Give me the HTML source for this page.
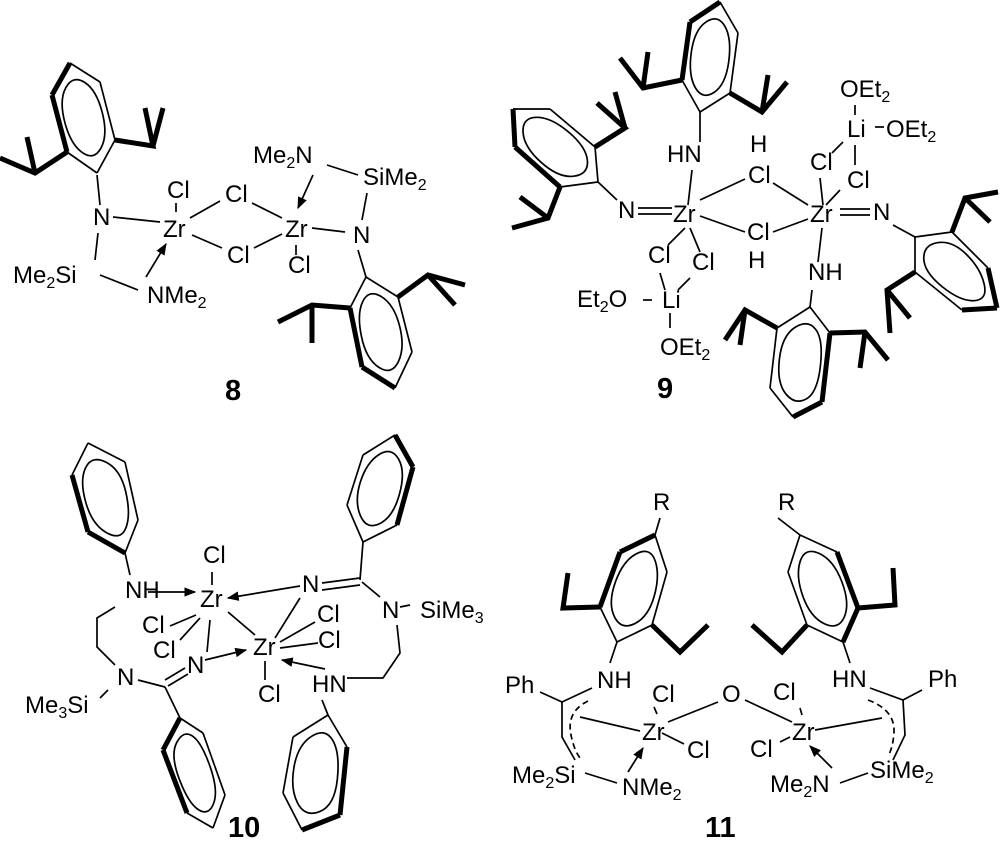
<!DOCTYPE html>
<html><head><meta charset="utf-8"><style>
html,body{margin:0;padding:0;background:#fff;}
svg{display:block;}
text{font-family:"Liberation Sans",Arial,sans-serif;font-size:24px;fill:#000;}
.s{font-size:16px;}
.b{font-weight:bold;font-size:29px;}
line,polyline,path{stroke:#000;fill:none;stroke-width:1.7;}
.t{stroke-width:5;}
.d{stroke-dasharray:6,4;}
</style></head><body>
<svg id="svg" width="1000" height="851" viewBox="0 0 1000 851" xmlns="http://www.w3.org/2000/svg">
<defs><marker id="ar" viewBox="0 0 10 10" refX="9" refY="5" markerWidth="7" markerHeight="7" orient="auto"><path d="M0,1 L10,5 L0,9 z" style="fill:#000;stroke:none"/></marker></defs>
<g id="rings"></g>
<g id="bonds">
<!-- 8 -->
<polyline class="t" points="67,152 35,173 0,158"/><line class="t" x1="35" y1="173" x2="27" y2="137"/>
<polyline class="t" points="115,140 153,146 145,108"/><line class="t" x1="153" y1="146" x2="163" y2="108"/>
<line x1="97" y1="175" x2="100" y2="205"/>
<line x1="113" y1="217" x2="160" y2="222"/><line x1="98" y1="233" x2="95" y2="260"/>
<line x1="100" y1="275" x2="138" y2="290"/><line x1="146" y1="277" x2="166" y2="244" marker-end="url(#ar)"/>
<line x1="176" y1="203" x2="176" y2="212"/>
<line x1="190" y1="218" x2="220" y2="201"/><line x1="252" y1="203" x2="282" y2="218"/>
<line x1="192" y1="235" x2="222" y2="248"/><line x1="254" y1="248" x2="282" y2="234"/>
<line x1="296" y1="245" x2="296" y2="255"/>
<line x1="312" y1="228" x2="345" y2="232"/><line x1="362" y1="220" x2="367" y2="193"/>
<line x1="327" y1="165" x2="358" y2="175"/><line x1="313" y1="175" x2="298" y2="208" marker-end="url(#ar)"/>
<line x1="358" y1="250" x2="366" y2="277"/>
<polyline class="t" points="350,308 312,305 278,322"/><line class="t" x1="312" y1="305" x2="312" y2="343"/>
<polyline class="t" points="398,297 428,275 465,285"/><line class="t" x1="428" y1="275" x2="455" y2="305"/>
<!-- 9 -->
<line x1="638" y1="208" x2="672" y2="208"/><line x1="638" y1="214" x2="672" y2="214"/>
<line x1="692" y1="170" x2="688" y2="205"/>
<line x1="700" y1="200" x2="745" y2="179"/><line x1="773" y1="183" x2="808" y2="205"/>
<line x1="700" y1="216" x2="745" y2="232"/><line x1="773" y1="232" x2="808" y2="219"/>
<line x1="685" y1="228" x2="668" y2="245"/><line x1="690" y1="228" x2="700" y2="252"/>
<line x1="660" y1="273" x2="665" y2="290"/><line x1="690" y1="278" x2="678" y2="290"/>
<line x1="643" y1="300" x2="652" y2="300"/><line x1="670" y1="313" x2="670" y2="328"/>
<line x1="855" y1="105" x2="855" y2="115"/><line x1="843" y1="142" x2="832" y2="153"/>
<line x1="855" y1="145" x2="855" y2="165"/><line x1="875" y1="127" x2="884" y2="127"/>
<line x1="820" y1="178" x2="823" y2="205"/><line x1="840" y1="190" x2="826" y2="205"/>
<line x1="840" y1="209" x2="870" y2="209"/><line x1="840" y1="215" x2="870" y2="215"/>
<line x1="822" y1="228" x2="818" y2="262"/>
<line x1="700" y1="142" x2="700" y2="112"/>
<polyline class="t" points="682,80 643,88 620,58"/><line class="t" x1="643" y1="88" x2="648" y2="52"/>
<polyline class="t" points="730,93 762,112 787,82"/><line class="t" x1="762" y1="112" x2="768" y2="75"/>
<line x1="617" y1="200" x2="598" y2="182"/>
<polyline class="t" points="595,147 625,128 597,103"/><line class="t" x1="625" y1="128" x2="615" y2="92"/>
<polyline class="t" points="560,187 548,218 512,228"/><line class="t" x1="548" y1="218" x2="520" y2="197"/>
<line x1="893" y1="225" x2="915" y2="237"/>
<polyline class="t" points="952,232 965,198 998,192"/><line class="t" x1="965" y1="198" x2="990" y2="222"/>
<polyline class="t" points="915,272 887,290 890,333"/><line class="t" x1="887" y1="290" x2="910" y2="318"/>
<line x1="812" y1="290" x2="810" y2="307"/>
<polyline class="t" points="777,328 745,310 725,340"/><line class="t" x1="745" y1="310" x2="740" y2="345"/>
<polyline class="t" points="830,333 865,332 888,360"/><line class="t" x1="865" y1="332" x2="860" y2="368"/>
<!-- 10 -->
<line x1="212" y1="572" x2="212" y2="585"/>
<line x1="148" y1="592" x2="195" y2="592" marker-end="url(#ar)"/>
<line x1="322" y1="583" x2="360" y2="578"/><line x1="322" y1="590" x2="360" y2="585"/>
<line x1="300" y1="586" x2="228" y2="598" marker-end="url(#ar)"/>
<line x1="360" y1="580" x2="363" y2="542"/>
<line x1="362" y1="582" x2="380" y2="597"/><line x1="400" y1="607" x2="410" y2="605"/>
<polyline points="397,625 400,653 383,678 347,678"/>
<line x1="325" y1="669" x2="282" y2="660" marker-end="url(#ar)"/>
<line x1="280" y1="642" x2="315" y2="622"/><line x1="280" y1="648" x2="318" y2="643"/>
<line x1="265" y1="661" x2="265" y2="680"/>
<line x1="228" y1="612" x2="255" y2="635"/><line x1="196" y1="615" x2="170" y2="626"/>
<line x1="200" y1="618" x2="180" y2="640"/><line x1="210" y1="620" x2="207" y2="652"/>
<line x1="205" y1="660" x2="246" y2="650" marker-end="url(#ar)"/>
<line x1="300" y1="598" x2="275" y2="638"/>
<line x1="185" y1="668" x2="165" y2="680"/><line x1="188" y1="674" x2="168" y2="686"/>
<line x1="165" y1="687" x2="138" y2="680"/><line x1="108" y1="690" x2="100" y2="698"/>
<polyline points="115,665 97,647 97,618 115,607"/>
<line x1="130" y1="575" x2="125" y2="553"/>
<line x1="165" y1="687" x2="180" y2="718"/>
<line x1="322" y1="700" x2="328" y2="715"/>
<!-- 11 -->
<line x1="660" y1="518" x2="655" y2="535"/>
<polyline class="t" points="600,607 563,608 568,573"/>
<polyline class="t" points="652,625 680,652 708,625"/>
<line x1="617" y1="642" x2="610" y2="663"/>
<line x1="540" y1="692" x2="562" y2="702"/><line x1="562" y1="702" x2="592" y2="688"/>
<polyline points="562,702 562,737 575,760"/>
<path class="d" d="M588,701 Q566,712 571,735 Q574,750 580,758"/>
<line x1="580" y1="717" x2="640" y2="731"/>
<line x1="585" y1="773" x2="617" y2="783"/>
<line x1="628" y1="772" x2="643" y2="748" marker-end="url(#ar)"/>
<line x1="668" y1="722" x2="718" y2="702"/><line x1="745" y1="700" x2="792" y2="722"/>
<line x1="662" y1="733" x2="684" y2="744"/><line x1="654" y1="707" x2="657" y2="714"/>
<line x1="800" y1="708" x2="802" y2="715"/><line x1="790" y1="737" x2="780" y2="742"/>
<line x1="832" y1="768" x2="810" y2="746" marker-end="url(#ar)"/>
<line x1="840" y1="783" x2="868" y2="773"/>
<polyline points="893,760 905,735 903,700"/>
<line x1="903" y1="700" x2="922" y2="690"/><line x1="903" y1="700" x2="870" y2="688"/>
<path class="d" d="M868,700 Q895,710 894,732 Q893,748 888,756"/>
<line x1="815" y1="730" x2="882" y2="718"/>
<line x1="778" y1="518" x2="800" y2="535"/>
<polyline class="t" points="858,608 895,605 893,568"/>
<polyline class="t" points="807,625 782,652 752,625"/>
<line x1="843" y1="642" x2="850" y2="663"/>
</g>
<g id="labels">
<!-- 8 -->
<text x="93" y="225">N</text><text x="163" y="237">Zr</text><text x="167" y="198">Cl</text>
<text x="225" y="202">Cl</text><text x="227" y="263">Cl</text><text x="285" y="237">Zr</text><text x="288" y="273">Cl</text>
<text x="253" y="163">Me<tspan class="s" dy="5">2</tspan><tspan dy="-5">N</tspan></text>
<text x="363" y="185">SiMe<tspan class="s" dy="5">2</tspan></text><text x="353" y="243">N</text>
<text x="13" y="283">Me<tspan class="s" dy="5">2</tspan><tspan dy="-5">Si</tspan></text>
<text x="147" y="303">NMe<tspan class="s" dy="5">2</tspan></text>
<text class="b" x="225" y="400">8</text>
<!-- 9 -->
<text x="618" y="218">N</text><text x="673" y="222">Zr</text><text x="810" y="222">Zr</text>
<text x="667" y="162">HN</text><text x="750" y="152">H</text><text x="748" y="183">Cl</text>
<text x="747" y="240">Cl</text><text x="748" y="268">H</text>
<text x="648" y="263">Cl</text><text x="692" y="270">Cl</text><text x="662" y="308">Li</text>
<text x="577" y="307">Et<tspan class="s" dy="5">2</tspan><tspan dy="-5">O</tspan></text>
<text x="660" y="355">OEt<tspan class="s" dy="5">2</tspan></text>
<text x="840" y="97">OEt<tspan class="s" dy="5">2</tspan></text>
<text x="847" y="137">Li</text>
<text x="886" y="137">OEt<tspan class="s" dy="5">2</tspan></text>
<text x="810" y="170">Cl</text><text x="847" y="188">Cl</text>
<text x="873" y="220">N</text><text x="808" y="280">NH</text>
<text class="b" x="657" y="398">9</text>
<!-- 10 -->
<text x="200" y="607">Zr</text><text x="203" y="563">Cl</text><text x="125" y="598">NH</text>
<text x="302" y="592">N</text><text x="382" y="618">N</text><text x="420" y="618">SiMe<tspan class="s" dy="5">3</tspan></text>
<text x="312" y="692">HN</text><text x="253" y="655">Zr</text><text x="317" y="622">Cl</text>
<text x="318" y="648">Cl</text><text x="258" y="702">Cl</text><text x="142" y="633">Cl</text><text x="153" y="658">Cl</text>
<text x="187" y="673">N</text><text x="117" y="685">N</text>
<text x="25" y="713">Me<tspan class="s" dy="5">3</tspan><tspan dy="-5">Si</tspan></text>
<text class="b" x="228" y="837">10</text>
<!-- 11 -->
<text x="653" y="510">R</text><text x="778" y="510">R</text>
<text x="597" y="688">NH</text><text x="505" y="693">Ph</text>
<text x="642" y="740">Zr</text><text x="652" y="702">Cl</text><text x="687" y="758">Cl</text>
<text x="722" y="702">O</text><text x="773" y="700">Cl</text><text x="792" y="740">Zr</text><text x="750" y="757">Cl</text>
<text x="512" y="783">Me<tspan class="s" dy="5">2</tspan><tspan dy="-5">Si</tspan></text>
<text x="622" y="795">NMe<tspan class="s" dy="5">2</tspan></text>
<text x="770" y="792">Me<tspan class="s" dy="5">2</tspan><tspan dy="-5">N</tspan></text>
<text x="870" y="778">SiMe<tspan class="s" dy="5">2</tspan></text>
<text x="832" y="687">HN</text><text x="928" y="687">Ph</text>
<text class="b" x="705" y="837">11</text>
</g>
</svg>
<script>
var rings=[
 [[[70,63],[100,82],[115,140],[97,173],[67,152],[52,95]],[4,5]],
 [[[366,277],[398,297],[412,352],[395,388],[362,367],[350,308]],[3,4]],
 [[[700,112],[730,93],[738,33],[720,2],[690,22],[682,80]],[3,4]],
 [[[598,182],[595,147],[550,109],[513,109],[515,147],[560,187]],[3,4]],
 [[[915,237],[952,232],[988,268],[997,308],[962,310],[915,272]],[2,3]],
 [[[810,307],[830,333],[822,402],[793,417],[770,388],[777,328]],[1,2]],
 [[[125,553],[138,520],[125,462],[88,443],[72,475],[88,532]],[4,5]],
 [[[363,542],[397,525],[413,467],[395,435],[363,455],[347,505]],[1,2]],
 [[[180,718],[203,733],[225,795],[213,828],[187,813],[163,750]],[4,5]],
 [[[328,715],[347,747],[340,815],[302,830],[283,793],[293,737]],[1,2]],
 [[[655,535],[667,572],[652,625],[617,642],[600,607],[620,552]],[4,5]],
 [[[800,535],[837,552],[858,608],[843,642],[807,625],[788,572]],[1,2]]
];
var g=document.getElementById('rings'),h='';
rings.forEach(function(r){
 var v=r[0],th=r[1],cx=0,cy=0;v.forEach(function(p){cx+=p[0]/6;cy+=p[1]/6;});
 for(var i=0;i<6;i++){var a=v[i],b=v[(i+1)%6];
  var t=th.indexOf(i)>=0;
  h+='<line x1="'+a[0]+'" y1="'+a[1]+'" x2="'+b[0]+'" y2="'+b[1]+'"'+(t?' class="t"':'')+'/>';}
 var s=0.78,q=v.map(function(p){return [cx+(p[0]-cx)*s,cy+(p[1]-cy)*s];});
 var m=function(i){var a=q[i%6],b=q[(i+1)%6];return [(a[0]+b[0])/2,(a[1]+b[1])/2];};
 var d='M'+m(0).join(',');
 for(var i=1;i<=6;i++){var c=q[i%6],e=m(i);d+=' Q'+c.join(',')+' '+e.join(',');}
 h+='<path d="'+d+' Z"/>';
});
g.innerHTML=h;
</script>
</body></html>
